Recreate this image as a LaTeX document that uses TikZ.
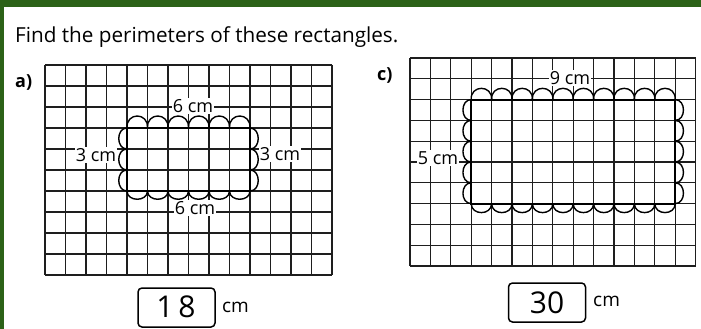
\documentclass[tikz,border=0pt]{standalone}
\usepackage{fontspec}
\setmainfont{Open Sans}
\definecolor{framegreen}{RGB}{44,98,24}
\definecolor{gridink}{RGB}{30,30,30}
\tikzset{
  gridline/.style={draw=gridink, line width=1.25pt},
  rectline/.style={draw=black, line width=2pt},
  scallop/.style={draw=black, line width=1.4pt},
  lab/.style={fill=white, inner sep=1pt, font=\fontsize{18}{20}\selectfont},
  partlab/.style={font=\bfseries\fontsize{18}{20}\selectfont},
  ansbox/.style={draw=black, line width=1.5pt, rounded corners=4pt, minimum width=77pt, minimum height=39pt, inner sep=0pt},
  hand/.style={font=\fontsize{30}{30}\selectfont},
  unit/.style={font=\fontsize{19}{21}\selectfont}
}
\begin{document}
\begin{tikzpicture}[x=1pt,y=-1pt]
\useasboundingbox (0,0) rectangle (701,329);
\fill[white] (0,0) rectangle (701,329);
\fill[framegreen] (0,0) rectangle (701,7);
\fill[framegreen] (0,0) rectangle (4,329);

\node[anchor=base west, font=\fontsize{20.7}{24}\selectfont, inner sep=0pt] (title) at (15,43) {Find the perimeters of these rectangles.};

% ---------- a) ----------
\node[partlab, anchor=base west, inner sep=0pt] (pa) at (15,87) {a)};
\foreach \i in {0,...,14} \draw[gridline] ({45+\i*20.5},65) -- ({45+\i*20.5},275);
\foreach \j in {0,...,10} \draw[gridline] (45,{65+\j*21}) -- (332,{65+\j*21});
% scallops
\foreach \i in {0,...,5} \draw[scallop] ({127+\i*20.5},128) .. controls +(-1,-16) and +(1,-16) .. ({127+(\i+1)*20.5},128);
\foreach \i in {0,...,5} \draw[scallop] ({127+\i*20.5},191) .. controls +(0,11) and +(0,11) .. ({127+(\i+1)*20.5},191);
\foreach \j in {0,...,2} \draw[scallop] (127,{128+\j*21}) .. controls +(-11,0) and +(-11,0) .. (127,{128+(\j+1)*21});
\foreach \j in {0,...,2} \draw[scallop] (250,{128+\j*21}) .. controls +(11,0) and +(11,0) .. (250,{128+(\j+1)*21});
\draw[rectline] (127,128) rectangle (250,191);
\node[lab] (a6t) at (193,106) {6 cm};
\node[lab] (a3l) at (96,155) {3 cm};
\node[lab] (a3r) at (280,154) {3 cm};
\node[lab] (a6b) at (195,208) {6 cm};
\node[ansbox] (ansa) at (176.5,307.5) {};
\node[hand] (numa) at (176,307) {1\,8};
\node[unit, anchor=west, inner sep=0pt] (cma) at (222,307) {cm};

% ---------- c) ----------
\node[partlab, anchor=base west, inner sep=0pt] (pc) at (377,81) {c)};
\foreach \i in {0,...,14} \draw[gridline] ({410+\i*20.4},58) -- ({410+\i*20.4},266);
\foreach \j in {0,...,10} \draw[gridline] (410,{58+\j*20.8}) -- (696,{58+\j*20.8});
\foreach \i in {0,...,9} \draw[scallop] ({471.2+\i*20.4},99.6) .. controls +(-1,-15) and +(1,-15) .. ({471.2+(\i+1)*20.4},99.6);
\foreach \i in {0,...,9} \draw[scallop] ({471.2+\i*20.4},203.6) .. controls +(0,12) and +(0,12) .. ({471.2+(\i+1)*20.4},203.6);
\foreach \j in {0,...,4} \draw[scallop] (471.2,{99.6+\j*20.8}) .. controls +(-11,0) and +(-11,0) .. (471.2,{99.6+(\j+1)*20.8});
\foreach \j in {0,...,4} \draw[scallop] (675.2,{99.6+\j*20.8}) .. controls +(11,0) and +(11,0) .. (675.2,{99.6+(\j+1)*20.8});
\draw[rectline] (471.2,99.6) rectangle (675.2,203.6);
\node[lab] (c9t) at (570,78) {9 cm};
\node[lab] (c5l) at (438,158) {5 cm};
\node[ansbox] (ansc) at (547,302.5) {};
\node[hand] (numc) at (547,303) {30};
\node[unit, anchor=west, inner sep=0pt] (cmc) at (593,301) {cm};
\end{tikzpicture}
\end{document}
